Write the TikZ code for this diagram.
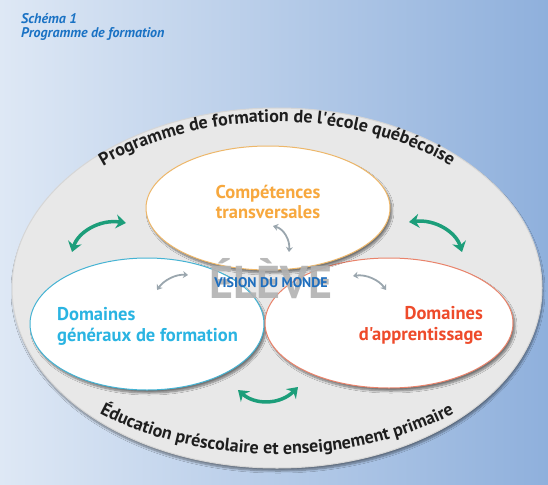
\documentclass[tikz,border=0pt]{standalone}
\usepackage{fontspec}
\setmainfont{PT Sans}[Ligatures=TeXOff]
\usetikzlibrary{shapes.geometric,shadows.blur,decorations.text,arrows.meta}
\definecolor{bgL}{HTML}{DEE8F5}
\definecolor{bgR}{HTML}{8FB0DC}
\definecolor{ringfill}{HTML}{E8E8E8}
\definecolor{ringedge}{HTML}{D6D6D6}
\definecolor{titleblue}{HTML}{1A72C4}
\definecolor{ctorange}{HTML}{F7A83E}
\definecolor{ctborder}{HTML}{EDB76A}
\definecolor{dgcyan}{HTML}{2AB4E2}
\definecolor{dgborder}{HTML}{45B3D3}
\definecolor{dared}{HTML}{EE4B2B}
\definecolor{daborder}{HTML}{E9836B}
\definecolor{vblue}{HTML}{1E6EBE}
\definecolor{arrowgreen}{HTML}{1C9E7A}
\definecolor{arrowgray}{HTML}{9AA6AE}
\definecolor{textdark}{HTML}{1E1E1E}
\definecolor{elevegray}{HTML}{B2B2B2}
\begin{document}
\begin{tikzpicture}[x=1pt,y=-1pt,
  zone/.style={ellipse, inner sep=0pt, fill=white, line width=1pt,
    blur shadow={shadow xshift=2pt, shadow yshift=-3pt, shadow blur steps=8, shadow opacity=50}},
  title/.style={anchor=base west, inner sep=0pt, text=titleblue, font=\fontsize{14}{15}\selectfont\bfseries\itshape},
  zonelabel/.style={inner sep=0pt, font=\fontsize{18.5}{20}\selectfont\bfseries},
  greenarrow/.style={draw=arrowgreen, line width=3.5pt, {Stealth[length=10pt,width=14pt]}-{Stealth[length=10pt,width=14pt]}},
  grayarrow/.style={draw=arrowgray, line width=1.8pt, {Stealth[length=5pt,width=7pt]}-{Stealth[length=5pt,width=7pt]}},
  ringtext/.style={decorate, decoration={text along path, text align=center,
    text={|\fontsize{18}{18}\selectfont\bfseries\color{textdark}|#1}}}
]
\useasboundingbox (0,0) rectangle (548,484);
\shade[left color=bgL, right color=bgR] (0,0) rectangle (548,484);

% titles
\node[title] (t1) at (21,24) {Schéma 1};
\node[title] (t2) at (21,38) {Programme de formation};

% outer frame
\node[ellipse, inner sep=0pt, minimum width=530pt, minimum height=360pt,
  fill=ringfill, draw=ringedge, line width=1pt,
  blur shadow={shadow xshift=1pt, shadow yshift=-3pt, shadow blur steps=8, shadow opacity=45}]
  (frame) at (277,288) {};

% ring texts
\path[ringtext={Programme de formation de l'école québécoise}]
  (frame.center) ++(170:256pt and 166pt)
  arc[start angle=170, end angle=10, x radius=256pt, y radius=166pt];
\path[ringtext={Éducation préscolaire et enseignement primaire}]
  (frame.center) ++(195:270pt and 166pt)
  arc[start angle=195, end angle=345, x radius=270pt, y radius=166pt];

% three zones
\node[zone, draw=dgborder, minimum width=234pt, minimum height=132pt] (dg) at (147,324) {};
\node[zone, draw=daborder, minimum width=248pt, minimum height=130pt] (da) at (389,323) {};
\node[zone, draw=ctborder, minimum width=244pt, minimum height=124pt] (ct) at (268,208) {};

% zone labels
\node[zonelabel, text=ctorange, anchor=base] (ct1) at (268,198) {Compétences};
\node[zonelabel, text=ctorange, anchor=base] (ct2) at (268,218) {transversales};
\node[zonelabel, text=dgcyan, anchor=base west] (dg1) at (57,320) {Domaines};
\node[zonelabel, text=dgcyan, anchor=base west] (dg2) at (57,341) {généraux de formation};
\node[zonelabel, text=dared, anchor=base east] (da1) at (483,319) {Domaines};
\node[zonelabel, text=dared, anchor=base east] (da2) at (483,340) {d'apprentissage};

% centre
\node[inner sep=0pt, anchor=base, text=elevegray, text opacity=0.9,
  font=\fontsize{46}{46}\selectfont\bfseries] (eleve) at (271,298) {ÉLÈVE};
\node[inner sep=0pt, anchor=base, text=vblue,
  font=\fontsize{14}{14}\selectfont\bfseries] (vision) at (271,287) {VISION DU MONDE};

% green arrows
\coordinate (gUL1) at (72,252);  \coordinate (gUL2) at (126,223);
\coordinate (gUR1) at (409,222); \coordinate (gUR2) at (462,252);
\coordinate (gB1) at (238,390);  \coordinate (gB2) at (298,387);
\draw[greenarrow] (gUL1) .. controls (78,232) and (100,219) .. (gUL2);
\draw[greenarrow] (gUR1) .. controls (435,219) and (456,232) .. (gUR2);
\draw[greenarrow] (gB1) .. controls (255,405) and (280,405) .. (gB2);

% gray arrows
\coordinate (aT1) at (273,226); \coordinate (aT2) at (289,252);
\coordinate (aL1) at (157,290); \coordinate (aL2) at (188,275);
\coordinate (aR1) at (353,276); \coordinate (aR2) at (386,290);
\draw[grayarrow] (aT1) .. controls (284,229) and (290,240) .. (aT2);
\draw[grayarrow] (aL1) .. controls (164,280) and (176,274) .. (aL2);
\draw[grayarrow] (aR1) .. controls (366,274) and (379,280) .. (aR2);
\end{tikzpicture}
\end{document}
